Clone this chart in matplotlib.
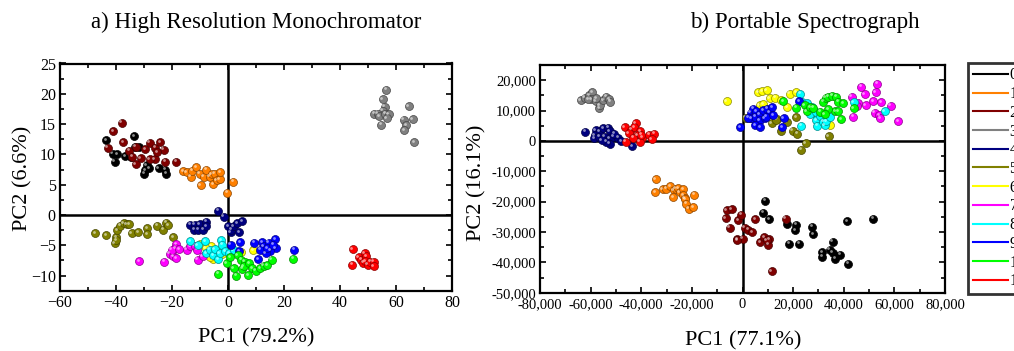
import matplotlib
matplotlib.use("Agg")
import matplotlib.pyplot as plt
import matplotlib.transforms as mtransforms
from matplotlib.ticker import MultipleLocator, FuncFormatter
from matplotlib.lines import Line2D
import numpy as np

plt.rcParams['font.family'] = ['Liberation Serif', 'DejaVu Serif']

# ---------------- data ----------------
class_labels = ["0", "1", "2", "3", "4", "5", "6", "7", "8", "9", "10", "11"]
class_colors = ["#000000", "#FF8000", "#800000", "#808080", "#000080", "#808000",
                "#FFFF00", "#FF00FF", "#00FFFF", "#0000FF", "#00FF00", "#FF0000"]

# a) High Resolution Monochromator (PC1, PC2)
hrm_c0 = [(-43.4,12.3),(-33.6,13.0),(-41.2,10.1),(-39.6,10.0),(-36.7,9.7),(-40.4,8.8),(-31.7,11.2),(-33.3,11.2),
          (-34.8,9.6),(-29.1,8.2),(-29.6,7.4),(-30.0,6.8),(-28.1,7.7),(-24.8,7.7),(-22.4,7.5),(-22.0,6.8)]
hrm_c1 = [(-15.9,7.2),(-14.8,7.1),(-13.3,6.3),(-12.7,7.3),(-11.4,7.9),(-10.1,6.8),(-9.7,4.9),(-8.7,6.3),(-7.7,7.5),
          (-6.5,6.3),(-5.8,6.7),(-5.3,5.1),(-4.7,6.8),(-4.1,5.7),(-2.9,5.9),(-2.7,7.1),(1.8,5.5),(-0.3,3.7)]
hrm_c2 = [(-37.9,15.2),(-41.0,13.8),(-42.9,11.1),(-37.4,12.0),(-35.3,10.6),(-32.9,11.3),(-32.9,8.4),(-31.2,9.4),
          (-29.6,10.9),(-27.9,11.9),(-26.0,11.1),(-24.3,12.0),(-22.9,10.8),(-26.2,9.2),(-27.9,9.2),(-22.4,8.8),
          (-18.4,8.8),(-34.3,9.6),(-25.3,10.4)]
hrm_c3 = [(56.5,20.7),(55.3,19.1),(55.9,17.9),(55.3,17.2),(52.3,16.7),(53.5,16.7),(54.1,16.3),(56.2,16.7),(57.4,16.6),
          (56.7,16.0),(54.7,14.9),(64.6,18.0),(62.7,15.7),(66.0,15.8),(63.6,14.8),(63.0,14.0),(66.6,12.0)]
hrm_c4 = [(-13.6,-1.6),(-11.9,-1.6),(-10.1,-1.5),(-7.7,-1.1),(-12.0,-2.4),(-10.7,-2.4),(-8.9,-2.4),(-7.7,-1.9),
          (-3.4,0.7),(-1.5,-0.3),(0.1,-1.9),(0.9,-2.8),(1.2,-2.4),(2.0,-1.9),(3.2,-1.4),(5.1,-1.0),(3.9,-2.8)]
hrm_c5 = [(-47.5,-3.0),(-43.6,-3.3),(-40.0,-3.7),(-40.4,-4.7),(-40.0,-4.2),(-39.6,-2.5),(-38.6,-1.8),(-37.2,-1.4),
          (-36.2,-1.5),(-35.3,-1.5),(-34.4,-3.0),(-32.0,-2.8),(-28.9,-2.2),(-28.9,-3.2),(-25.3,-1.8),(-23.2,-2.4),
          (-22.0,-1.3),(-21.3,-1.7),(-19.6,-3.7)]
hrm_c6 = [(-10.1,-4.8),(-5.9,-5.2),(-5.3,-7.3),(-4.1,-5.7),(-6.5,-7.0),(-2.0,-6.5),(4.8,-6.1),(8.9,-5.8),(-8.0,-5.5)]
hrm_c7 = [(-31.8,-7.6),(-22.8,-7.7),(-18.4,-4.8),(-18.9,-5.5),(-20.8,-6.4),(-19.6,-6.8),(-18.4,-7.1),(-20.1,-5.7),
          (-17.5,-5.6),(-14.8,-5.7),(-13.4,-5.2),(-11.9,-5.1),(-11.0,-5.7),(-10.8,-7.4),(-9.1,-6.8)]
hrm_c8 = [(-13.6,-4.3),(-10.8,-5.0),(-8.2,-4.3),(-7.7,-6.3),(-6.5,-5.7),(-5.3,-6.6),(-4.7,-5.6),(-3.5,-7.3),
          (-3.0,-6.3),(-2.5,-4.2),(-2.0,-4.9),(-1.1,-6.0),(0.4,-6.3),(2.0,-5.8)]
hrm_c9 = [(1.0,-4.9),(4.4,-4.5),(4.0,-6.0),(9.4,-4.6),(12.3,-4.5),(12.7,-5.2),(14.6,-4.6),(16.8,-4.0),(17.0,-5.5),
          (15.1,-5.9),(13.4,-6.3),(10.7,-7.3),(23.7,-5.7),(11.6,-5.7),(14.0,-5.5),(16.1,-4.9)]
hrm_c10 = [(-3.5,-9.7),(-0.5,-8.0),(2.9,-10.0),(2.0,-8.8),(5.1,-8.9),(3.5,-6.6),(4.7,-7.4),(6.0,-7.7),(5.6,-8.5),
           (7.5,-8.0),(8.7,-8.8),(9.9,-9.2),(7.3,-9.9),(11.6,-8.8),(12.7,-8.4),(14.0,-8.3),(15.6,-7.4),(23.2,-7.2),(0.8,-7.0)]
hrm_c11 = [(44.6,-5.6),(44.3,-8.2),(46.7,-7.0),(47.6,-7.4),(48.2,-7.9),(48.8,-6.3),(49.3,-6.8),(49.1,-7.6),
           (49.9,-8.2),(50.8,-7.7),(52.0,-7.7),(52.0,-8.5)]

# b) Portable Spectrograph (PC1, PC2)
ps_c0 = [(9000,-19700),(8200,-23700),(10500,-25800),(17700,-27300),(21300,-27600),(20800,-29400),(27600,-28200),
         (27900,-30800),(18500,-33900),(22500,-33900),(35600,-33200),(34500,-35800),(31400,-36600),(31400,-38200),
         (35600,-36800),(36500,-38800),(38500,-37500),(41800,-40400),(41400,-26500),(51700,-25600)]
ps_c1 = [(-34300,-12600),(-34500,-16800),(-31600,-15900),(-30100,-15700),(-28500,-15000),(-27200,-16300),
         (-27400,-18500),(-26400,-15700),(-25300,-15500),(-24800,-16800),(-23500,-15900),(-23500,-17900),
         (-22800,-18800),(-22700,-19200),(-22200,-20700),(-21200,-22300),(-19500,-21800),(-19200,-17700)]
ps_c2 = [(-6300,-22900),(-4300,-22500),(-6600,-25400),(-5000,-28600),(-2100,-32400),(0,-32200),(-1700,-26200),
         (-400,-24300),(900,-28600),(2200,-29300),(3800,-30000),(4900,-25800),(6900,-33300),(8500,-31700),
         (10500,-32400),(10100,-34200),(9500,-32800),(17100,-25600),(11500,-43000),(-2000,-32800)]
ps_c3 = [(-64000,13400),(-62400,14200),(-60600,15100),(-59300,16000),(-59800,13800),(-58000,13100),(-56700,10700),
         (-56400,11800),(-55100,13400),(-53800,14500),(-52700,13800),(-52200,12900),(-57700,14000),(-61000,13800)]
ps_c4 = [(-62200,3000),(-58000,3500),(-58400,1900),(-58500,800),(-56400,3200),(-55100,4100),(-53100,4300),
         (-52500,3200),(-56700,1400),(-54500,1400),(-52500,800),(-51200,1400),(-49200,1000),(-52500,-900),
         (-53800,-300),(-47900,-100),(-43500,-1700),(-55700,300),(-50600,2400)]
ps_c5 = [(1300,7600),(2800,7600),(11200,8700),(11500,5900),(13700,7300),(15400,3400),(17500,6200),(19900,3400),
         (21700,2400),(21300,7900),(24900,-700),(23100,-2900),(29400,7600),(34000,1500),(13300,7000),(9500,8400),(5500,6300)]
ps_c6 = [(-6300,13100),(6200,16000),(7900,16400),(9500,16800),(6800,11800),(8100,12000),(10800,14000),(12800,14200),
         (18700,15600),(21100,16000),(17600,11100),(15400,13400),(34500,5200)]
ps_c7 = [(43100,14500),(43700,8000),(47000,17800),(48300,15300),(45700,12400),(48700,11800),(51600,13100),
         (52600,16000),(53100,18900),(54800,12700),(52300,9300),(54000,8400),(54300,7400),(58500,11600),
         (61500,6500),(45100,11600)]
ps_c8 = [(22900,15600),(23700,12900),(25600,12400),(26600,8700),(29000,9600),(29200,6800),(29500,5000),(30600,8300),
         (31800,6300),(32500,5200),(33100,6500),(23300,5000),(44000,12700),(56200,9800),(34500,8000),(27300,11200)]
ps_c9 = [(-800,4500),(3200,9300),(4200,10600),(5500,9800),(3500,7400),(4900,8000),(6800,8700),(8200,10100),
         (9700,10600),(10800,9300),(11800,11200),(6800,6800),(8800,7400),(4900,5200),(7100,4600),(9300,8000),
         (16300,7400),(15800,4600),(22400,13100),(2300,7600),(12100,8400)]
ps_c10 = [(16000,13100),(21100,10900),(24600,11800),(25400,9800),(26700,11200),(28000,10900),(31800,12900),
          (32900,14200),(33800,14500),(35500,14900),(36900,14500),(37800,12900),(36500,9800),(33800,10500),
          (39100,7200),(39800,12400),(37800,9800),(44000,10700),(30800,9600),(32500,8700)]
ps_c11 = [(-46600,4600),(-46200,-300),(-44000,3700),(-42200,5900),(-42700,4600),(-40300,3200),(-41400,1800),
          (-39700,1000),(-40600,-300),(-36800,2100),(-34900,2400),(-35800,500),(-45000,2600),(-43300,1000),(-40000,2100)]

hrm_groups = [hrm_c0, hrm_c1, hrm_c2, hrm_c3, hrm_c4, hrm_c5, hrm_c6, hrm_c7, hrm_c8, hrm_c9, hrm_c10, hrm_c11]
ps_groups = [ps_c0, ps_c1, ps_c2, ps_c3, ps_c4, ps_c5, ps_c6, ps_c7, ps_c8, ps_c9, ps_c10, ps_c11]

titles = ["a) High Resolution Monochromator", "b) Portable Spectrograph"]
xlabels = ["PC1 (79.2%)", "PC1 (77.1%)"]
ylabels = ["PC2 (6.6%)", "PC2 (16.1%)"]

# ---------------- figure ----------------
W, H = 1014, 351
fig = plt.figure(figsize=(W / 100, H / 100), dpi=100)

def fbox(x0, y0, x1, y1):
    return [x0 / W, 1 - y1 / H, (x1 - x0) / W, (y1 - y0) / H]

axA = fig.add_axes(fbox(60, 63.5, 452, 290.7))
axB = fig.add_axes(fbox(540, 65, 945, 292.7))


def darker(c, f=0.55):
    r, g, b = matplotlib.colors.to_rgb(c)
    return (r * f, g * f, b * f)


def draw_points(ax, groups):
    hl = mtransforms.offset_copy(ax.transData, fig=fig, x=-1.0, y=1.0, units='points')
    for pts, col in zip(groups, class_colors):
        arr = np.array(pts, dtype=float)
        ax.scatter(arr[:, 0], arr[:, 1], s=33, c=[col], edgecolors=[darker(col)],
                   linewidths=0.5, zorder=3)
        ax.scatter(arr[:, 0], arr[:, 1], s=4, c='white', alpha=0.55, linewidths=0,
                   transform=hl, zorder=3)


def style_axes(ax):
    for sp in ax.spines.values():
        sp.set_linewidth(1.6)
    ax.axhline(0, color='black', lw=1.8, zorder=2)
    ax.axvline(0, color='black', lw=1.8, zorder=2)
    ax.tick_params(which='both', direction='in', top=True, right=True, width=1.2,
                   labelsize=11.5, pad=3)
    ax.tick_params(which='major', length=4.5)
    ax.tick_params(which='minor', length=3)


draw_points(axA, hrm_groups)
axA.set_xlim(-60, 80)
axA.set_ylim(-12.5, 25)
axA.xaxis.set_major_locator(MultipleLocator(20))
axA.xaxis.set_minor_locator(MultipleLocator(10))
axA.yaxis.set_major_locator(MultipleLocator(5))
axA.yaxis.set_minor_locator(MultipleLocator(2.5))
style_axes(axA)

draw_points(axB, ps_groups)
axB.set_xlim(-80000, 80000)
axB.set_ylim(-50000, 25000)
axB.xaxis.set_major_locator(MultipleLocator(20000))
axB.xaxis.set_minor_locator(MultipleLocator(10000))
axB.yaxis.set_major_locator(MultipleLocator(10000))
axB.yaxis.set_minor_locator(MultipleLocator(5000))
comma = FuncFormatter(lambda v, p: f"{int(round(v)):,}")
axB.xaxis.set_major_formatter(comma)
axB.yaxis.set_major_formatter(comma)
style_axes(axB)
axB.tick_params(labelsize=10.5)
axB.tick_params(axis='x', pad=4)

# titles and labels
fig.text(256 / W, 1 - 22 / H, titles[0], ha='center', va='center', fontsize=16.6)
fig.text(805 / W, 1 - 22 / H, titles[1], ha='center', va='center', fontsize=16.6)
fig.text(256 / W, 1 - 338 / H, xlabels[0], ha='center', va='center', fontsize=16)
fig.text(743 / W, 1 - 341 / H, xlabels[1], ha='center', va='center', fontsize=16)
fig.text(23 / W, 1 - 178 / H, ylabels[0], ha='center', va='center', rotation=90, fontsize=16)
fig.text(477 / W, 1 - 183 / H, ylabels[1], ha='center', va='center', rotation=90, fontsize=16)

# legend (runs past the right edge of the picture, as in the reference)
handles = [Line2D([0], [0], color=c, lw=1.5) for c in class_colors]
leg = fig.legend(handles, class_labels, loc='upper left',
                 bbox_to_anchor=(968 / W, 1 - 62.7 / H), frameon=True, fancybox=False,
                 fontsize=11.5, handlelength=2.2, handletextpad=0.1, labelspacing=0.17,
                 borderpad=0.3, borderaxespad=0.0)
leg.get_frame().set_edgecolor('black')
leg.get_frame().set_linewidth(2.0)

fig.savefig("out.png", dpi=100)
